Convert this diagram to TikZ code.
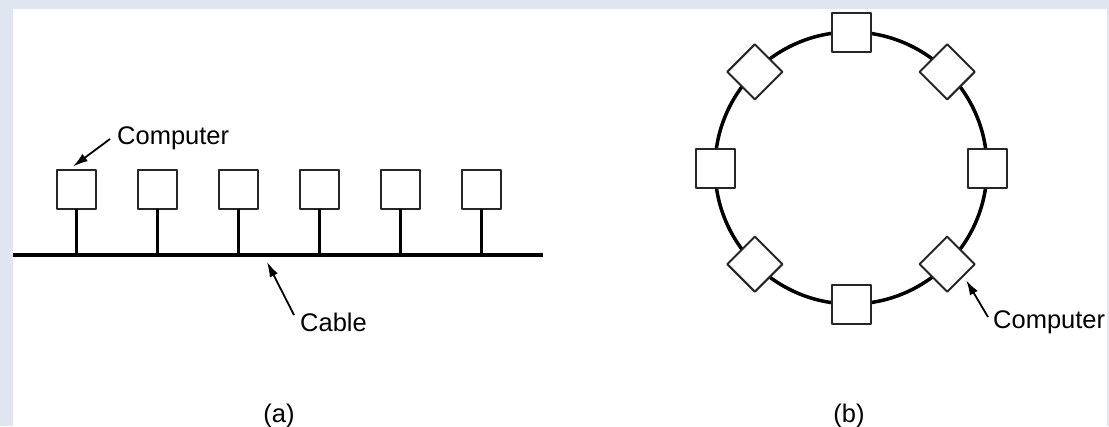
\documentclass[tikz,border=0pt]{standalone}
\usepackage{fontspec}
\setmainfont{Liberation Sans}
\usetikzlibrary{arrows.meta,positioning}

\begin{document}
\begin{tikzpicture}[x=1pt,y=-1pt,line join=round,
  pc/.style={draw=black!85,line width=2pt,fill=white,minimum size=39pt,inner sep=0pt,outer sep=0pt},
  tag/.style={font=\fontsize{25.5}{30}\selectfont,inner sep=0pt},
  ptr/.style={line width=1.8pt,-{Latex[length=15pt,width=9pt]}}]
\definecolor{pagebg}{RGB}{223,230,242}
\useasboundingbox (0,0) rectangle (1109,426);
\fill[pagebg] (0,0) rectangle (1109,426);
\fill[white] (13,9) rectangle (1107,426);
% (a) six computers hanging from one cable
\draw[line width=3.5pt] (13,255) -- (543,255);
\foreach \i/\x in {1/76,2/157,3/238,4/319,5/400,6/481}{
  \coordinate (s\i) at (\x,255);
  \node[pc] (c\i) at (\x,189) {};
  \draw[line width=3pt] (c\i.south) -- (s\i);}
\node[tag,anchor=base west] (lblA) at (117,144) {Computer};
\draw[ptr] ([shift={(-7,-5)}]lblA.base west) -- ([shift={(-3,-3)}]c1.north);
\coordinate (cab) at (267,262);
\node[tag,anchor=base west] (lblB) at (300,331) {Cable};
\draw[ptr] ([shift={(-6,-16)}]lblB.base west) -- (cab);
\node[tag,anchor=base] (capA) at (279,422) {(a)};
% (b) eight computers on a ring
\coordinate (ctr) at (851,168);
\draw[line width=3.5pt] (ctr) circle[radius=136];
\foreach \i/\a/\r in {1/-90/0,2/-45/45,3/0/0,4/45/45,5/90/0,6/135/45,7/180/0,8/225/45}
  \node[pc,rotate=\r] (r\i) at ([shift={(\a:136)}]ctr) {};
\node[tag,anchor=base west] (lblC) at (993,328) {Computer};
\draw[ptr] ([shift={(-5,-11)}]lblC.base west) -- ([shift={(19,16)}]r4.center);
\node[tag,anchor=base] (capB) at (849,422) {(b)};
\end{tikzpicture}
\end{document}
